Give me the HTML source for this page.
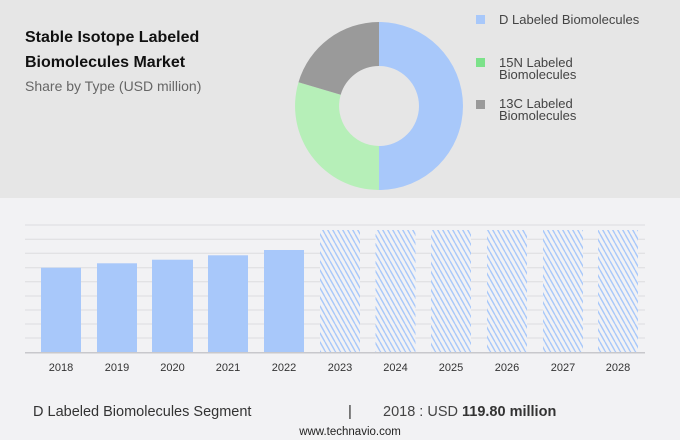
<!DOCTYPE html>
<html><head><meta charset="utf-8"><style>
body{margin:0;width:680px;height:440px;overflow:hidden;background:#f2f2f4;font-family:"Liberation Sans",sans-serif;}
</style></head><body>
<svg width="680" height="440" xmlns="http://www.w3.org/2000/svg" style="position:absolute;left:0;top:0">
<defs>
<pattern id="h" patternUnits="userSpaceOnUse" width="5" height="9">
<rect width="5" height="9" fill="#f2f2f4"/>
<path d="M0 0 L5 9 M-5 0 L0 9 M5 0 L10 9" stroke="#a8c8fa" stroke-width="1.4"/>
</pattern>
</defs>
<rect x="0" y="0" width="680" height="198" fill="#e6e6e6"/>
<text x="25" y="42" font-size="16" font-weight="bold" fill="#111">Stable Isotope Labeled</text>
<text x="25" y="67" font-size="16" font-weight="bold" fill="#111">Biomolecules Market</text>
<text x="25" y="91" font-size="14" fill="#666">Share by Type (USD million)</text>
<path d="M379 22 A84 84 0 0 1 379 190 L379 146 A40 40 0 0 0 379 66 Z" fill="#a8c8fa"/>
<path d="M379 190 A84 84 0 0 1 298.5 82.2 L340.7 94.7 A40 40 0 0 0 379 146 Z" fill="#b6efb8"/>
<path d="M298.5 82.2 A84 84 0 0 1 379 22 L379 66 A40 40 0 0 0 340.7 94.7 Z" fill="#9a9a9a"/>
<rect x="476" y="15" width="9" height="9" fill="#a8c8fa"/>
<text x="499" y="24" font-size="13" fill="#444">D Labeled Biomolecules</text>
<rect x="476" y="58" width="9" height="9" fill="#7ce28a"/>
<text x="499" y="67" font-size="13" fill="#444">15N Labeled</text>
<text x="499" y="79" font-size="13" fill="#444">Biomolecules</text>
<rect x="476" y="100" width="9" height="9" fill="#9a9a9a"/>
<text x="499" y="108" font-size="13" fill="#444">13C Labeled</text>
<text x="499" y="120" font-size="13" fill="#444">Biomolecules</text>
<g stroke="#dcdcdf" stroke-width="1">
<line x1="25" x2="645" y1="225" y2="225"/><line x1="25" x2="645" y1="239.3" y2="239.3"/><line x1="25" x2="645" y1="253.3" y2="253.3"/><line x1="25" x2="645" y1="267.7" y2="267.7"/><line x1="25" x2="645" y1="281.7" y2="281.7"/><line x1="25" x2="645" y1="296" y2="296"/><line x1="25" x2="645" y1="310" y2="310"/><line x1="25" x2="645" y1="324" y2="324"/><line x1="25" x2="645" y1="338" y2="338"/>
</g>
<g fill="#a8c8fa">
<rect x="41" y="267.7" width="40" height="85"/>
<rect x="97" y="263.3" width="40" height="89.4"/>
<rect x="152" y="259.7" width="41" height="93"/>
<rect x="208" y="255.3" width="40" height="97.4"/>
<rect x="264" y="250" width="40" height="102.7"/>
</g>
<g fill="url(#h)">
<rect x="320" y="230" width="40" height="122.7"/>
<rect x="375.5" y="230" width="40" height="122.7"/>
<rect x="431" y="230" width="40" height="122.7"/>
<rect x="487" y="230" width="40" height="122.7"/>
<rect x="543" y="230" width="40" height="122.7"/>
<rect x="598" y="230" width="40" height="122.7"/>
</g>
<line x1="25" x2="645" y1="352.7" y2="352.7" stroke="#c8c8cc" stroke-width="1.5"/>
<g font-size="11" fill="#333" text-anchor="middle">
<text x="61" y="371">2018</text><text x="117" y="371">2019</text><text x="172.5" y="371">2020</text><text x="228" y="371">2021</text><text x="284" y="371">2022</text><text x="340" y="371">2023</text><text x="395.5" y="371">2024</text><text x="451" y="371">2025</text><text x="507" y="371">2026</text><text x="563" y="371">2027</text><text x="618" y="371">2028</text>
</g>
<text x="33" y="416" font-size="14.5" fill="#333">D Labeled Biomolecules Segment</text>
<text x="348" y="416" font-size="15" fill="#333">|</text>
<text x="383" y="416" font-size="14.5" fill="#444">2018 : USD <tspan font-weight="bold" fill="#333">119.80 million</tspan></text>
<text x="350" y="435" font-size="11.5" fill="#222" text-anchor="middle">www.technavio.com</text>
</svg>
</body></html>
